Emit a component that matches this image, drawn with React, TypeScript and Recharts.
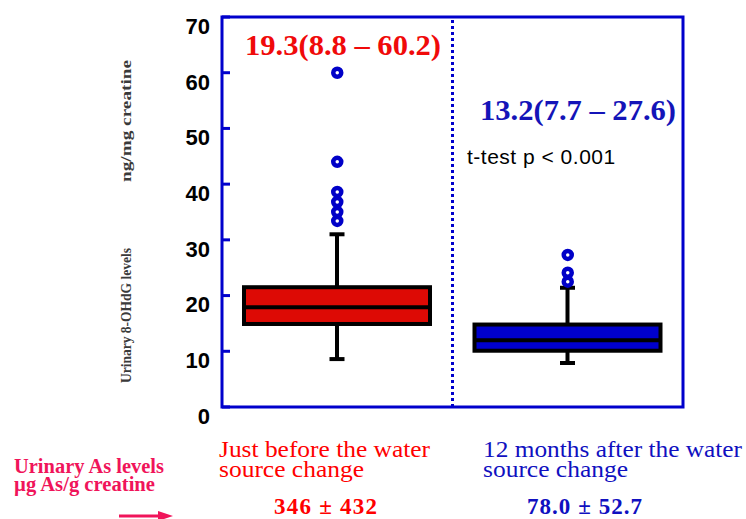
import {
  ComposedChart,
  Bar,
  Scatter,
  XAxis,
  YAxis,
  ReferenceArea,
  ReferenceLine,
} from 'recharts'

// two groups: before / 12 months after the water source change
const groups = ['before', 'after']
const q1 = [14.9, 10.1]
const median = [17.9, 12.0]
const q3 = [21.5, 14.8]
const whiskerLow = [8.6, 7.9]
const whiskerHigh = [31.0, 21.4]
const outliersBefore = [60.0, 44.0, 38.6, 36.8, 35.0, 33.4]
const outliersAfter = [27.3, 24.1, 22.5]
const yTicks = [0, 10, 20, 30, 40, 50, 60, 70]

const boxFill = ['#dd0a05', '#0000cc']
const frameBlue = '#0000cc'
const serif = '"Liberation Serif", "Times New Roman", serif'
const sans = '"Liberation Sans", Arial, sans-serif'

const data = groups.map((g, i) => ({
  group: g,
  box: [q1[i], q3[i]],
  q1: q1[i],
  median: median[i],
  q3: q3[i],
  lo: whiskerLow[i],
  hi: whiskerHigh[i],
}))

const outliers = [
  ...outliersBefore.map((v) => ({ group: 'before', v })),
  ...outliersAfter.map((v) => ({ group: 'after', v })),
]

function BoxShape(props: any) {
  const { x, y, width, height, payload, index } = props
  const ppu = height / (payload.q3 - payload.q1)
  const cx = x + width / 2
  const yMed = y + (payload.q3 - payload.median) * ppu
  const yHi = y - (payload.hi - payload.q3) * ppu
  const yLo = y + height + (payload.q1 - payload.lo) * ppu
  return (
    <g>
      <line x1={cx} x2={cx} y1={yHi} y2={y} stroke="#000" strokeWidth={4} />
      <line x1={cx} x2={cx} y1={y + height} y2={yLo} stroke="#000" strokeWidth={4} />
      <line x1={cx - 7.5} x2={cx + 7.5} y1={yHi} y2={yHi} stroke="#000" strokeWidth={4} />
      <line x1={cx - 7.5} x2={cx + 7.5} y1={yLo} y2={yLo} stroke="#000" strokeWidth={4} />
      <rect x={x} y={y} width={width} height={height} fill={boxFill[index]} stroke="#000" strokeWidth={4} />
      <line x1={x} x2={x + width} y1={yMed} y2={yMed} stroke="#000" strokeWidth={4} />
    </g>
  )
}

function OutlierDot(props: any) {
  const { cx, cy } = props
  return <circle cx={cx} cy={cy} r={4} fill="#fff" stroke="#0000c8" strokeWidth={4.5} />
}

export default function App() {
  return (
    <div style={{ position: 'absolute', left: 0, top: 0, width: 746, height: 519 }}>
      <ComposedChart
        width={746}
        height={519}
        data={data}
        margin={{ top: 17, right: 53, bottom: 112, left: 182 }}
      >
        <XAxis dataKey="group" type="category" allowDuplicatedCategory={false} hide padding={{ left: 0, right: 0 }} />
        <YAxis
          domain={[0, 70]}
          ticks={yTicks}
          interval={0}
          width={40}
          axisLine={false}
          tickLine={{ stroke: frameBlue, strokeWidth: 3 }}
          tickSize={-8}
          tickMargin={20}
          tick={{ fill: '#000', fontSize: 22, fontWeight: 'bold', fontFamily: sans, dy: 9 }}
        />
        <YAxis
          yAxisId="r"
          orientation="right"
          domain={[0, 70]}
          ticks={yTicks}
          interval={0}
          width={10}
          axisLine={false}
          tickLine={{ stroke: frameBlue, strokeWidth: 3 }}
          tickSize={-8}
          tick={false}
        />
        <ReferenceLine x="after" position="start" stroke={frameBlue} strokeWidth={3} strokeDasharray="3 3" />
        <ReferenceArea x1="before" x2="after" y1={0} y2={70} fill="none" stroke={frameBlue} strokeWidth={3} fillOpacity={0} />
        <Bar dataKey="box" barSize={186} shape={<BoxShape />} isAnimationActive={false} />
        <Scatter data={outliers} dataKey="v" shape={<OutlierDot />} isAnimationActive={false} />

        {/* annotations */}
        <text x={245} y={55} fill="#f00a0a" fontFamily={serif} fontWeight="bold" fontSize={30}
          textLength={196} lengthAdjust="spacingAndGlyphs">
          19.3(8.8 – 60.2)
        </text>
        <text x={480} y={120} fill="#1414b8" fontFamily={serif} fontWeight="bold" fontSize={30}
          textLength={196} lengthAdjust="spacingAndGlyphs">
          13.2(7.7 – 27.6)
        </text>
        <text x={467} y={164} fill="#000" fontFamily={sans} fontSize={21} letterSpacing={0.5}>
          t-test p &lt; 0.001
        </text>

        {/* y axis title */}
        <text
          transform="translate(131, 315.5) rotate(-90)"
          textAnchor="middle"
          fill="#3a3a3a"
          fontFamily={serif}
          fontWeight="bold"
          fontSize={15}
          textLength={135}
          lengthAdjust="spacingAndGlyphs"
        >
          Urinary 8-OHdG levels
        </text>
        <text
          transform="translate(131, 121) rotate(-90)"
          textAnchor="middle"
          fill="#3a3a3a"
          fontFamily={serif}
          fontWeight="bold"
          fontSize={15}
          textLength={122}
          lengthAdjust="spacingAndGlyphs"
        >
          ng/mg creatine
        </text>

        {/* group captions */}
        <text x={219} y={457} fill="#ff0000" fontFamily={serif} fontSize={23} textLength={211} lengthAdjust="spacingAndGlyphs">
          Just before the water
        </text>
        <text x={219} y={477} fill="#ff0000" fontFamily={serif} fontSize={23} textLength={145} lengthAdjust="spacingAndGlyphs">
          source change
        </text>
        <text x={483} y={457} fill="#1010c0" fontFamily={serif} fontSize={23} textLength={259} lengthAdjust="spacingAndGlyphs">
          12 months after the water
        </text>
        <text x={483} y={477} fill="#1010c0" fontFamily={serif} fontSize={23} textLength={145} lengthAdjust="spacingAndGlyphs">
          source change
        </text>
        <text x={274} y={514} fill="#ff0000" fontFamily={serif} fontWeight="bold" fontSize={23} textLength={103} lengthAdjust="spacing">
          346 ± 432
        </text>
        <text x={527} y={514} fill="#1010c0" fontFamily={serif} fontWeight="bold" fontSize={23} textLength={115} lengthAdjust="spacing">
          78.0 ± 52.7
        </text>

        {/* urinary As legend */}
        <text x={14} y={473} fill="#f0145a" fontFamily={serif} fontWeight="bold" fontSize={20} textLength={150} lengthAdjust="spacingAndGlyphs">
          Urinary As levels
        </text>
        <text x={14} y={491} fill="#f0145a" fontFamily={serif} fontWeight="bold" fontSize={20} textLength={141} lengthAdjust="spacingAndGlyphs">
          µg As/g creatine
        </text>
        <line x1={119} x2={162} y1={516} y2={516} stroke="#f0145a" strokeWidth={3} />
        <polygon points="158,511 173,516 158,521" fill="#f0145a" />
      </ComposedChart>
    </div>
  )
}
